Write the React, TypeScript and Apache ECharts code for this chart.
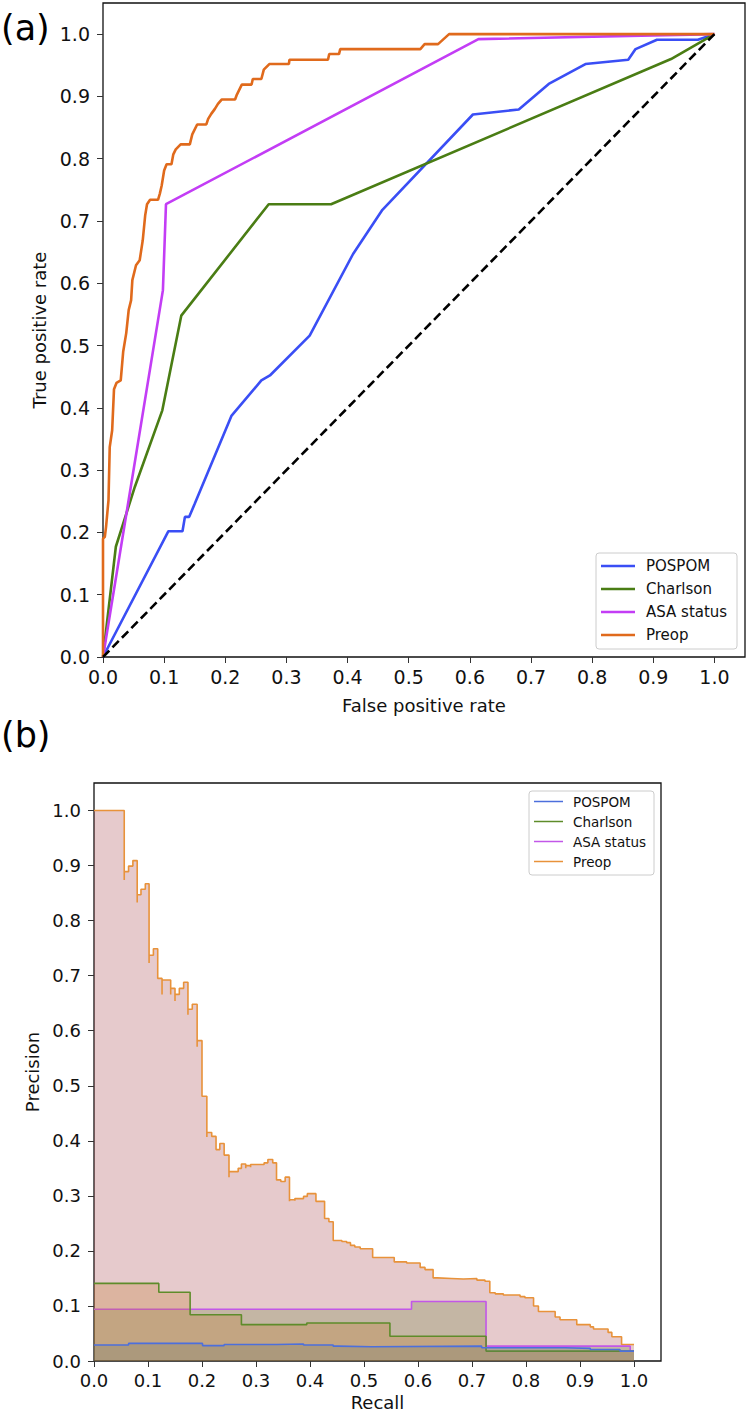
import React, { useEffect, useRef } from "react";
import * as echarts from "echarts";

// ---------- data ----------
const seriesNames = ["POSPOM", "Charlson", "ASA status", "Preop"];
const rocColors = ["#3a4ef5", "#4a7d14", "#c33df5", "#e06a1c"];
const prColors = ["#4c6fdc", "#5e8c2a", "#c257e8", "#e8923a"];
const prFillColors = ["#66766d", "#be741a", "#5e7a2c", "#9b2b33"];
const tickValues = [0, 0.1, 0.2, 0.3, 0.4, 0.5, 0.6, 0.7, 0.8, 0.9, 1.0];

// ROC curves: [false positive rate, true positive rate]
const rocPospom: number[][] = [
  [0, 0], [0.107, 0.202], [0.13, 0.202], [0.134, 0.225], [0.141, 0.225], [0.15, 0.246],
  [0.21, 0.387], [0.259, 0.444], [0.273, 0.452], [0.338, 0.516], [0.409, 0.647],
  [0.457, 0.718], [0.605, 0.871], [0.68, 0.879], [0.729, 0.92], [0.789, 0.952],
  [0.859, 0.959], [0.871, 0.976], [0.906, 0.991], [0.973, 0.991], [1, 1],
];
const rocCharlson: number[][] = [
  [0, 0], [0.021, 0.177], [0.052, 0.273], [0.097, 0.396], [0.128, 0.548],
  [0.271, 0.727], [0.373, 0.727], [0.929, 0.96], [1, 1],
];
const rocAsa: number[][] = [
  [0, 0], [0.098, 0.589], [0.103, 0.727], [0.614, 0.992], [1, 1],
];
const rocPreop: number[][] = [
  [0, 0], [0, 0.19], [0.003, 0.193], [0.005, 0.209], [0.009, 0.252], [0.011, 0.337],
  [0.015, 0.364], [0.018, 0.43], [0.022, 0.44], [0.029, 0.444], [0.033, 0.49],
  [0.038, 0.52], [0.042, 0.557], [0.046, 0.573], [0.048, 0.605], [0.054, 0.629],
  [0.06, 0.637], [0.065, 0.669], [0.069, 0.709], [0.072, 0.727], [0.077, 0.734],
  [0.09, 0.734], [0.093, 0.744], [0.096, 0.757], [0.1, 0.781], [0.104, 0.791],
  [0.112, 0.791], [0.115, 0.807], [0.119, 0.815], [0.127, 0.823], [0.142, 0.823],
  [0.146, 0.839], [0.154, 0.855], [0.169, 0.855], [0.172, 0.864], [0.177, 0.872],
  [0.183, 0.88], [0.188, 0.888], [0.194, 0.895], [0.216, 0.895], [0.219, 0.903],
  [0.227, 0.919], [0.243, 0.919], [0.245, 0.928], [0.259, 0.928], [0.263, 0.943],
  [0.272, 0.952], [0.304, 0.952], [0.305, 0.959], [0.368, 0.959], [0.37, 0.968],
  [0.386, 0.968], [0.388, 0.976], [0.519, 0.976], [0.526, 0.984], [0.548, 0.984],
  [0.566, 1.0], [1, 1],
];
const chanceLine: number[][] = [[0, 0], [1, 1]];

// Precision-recall curves: [recall, precision] (precision held until next recall)
const prPospom: number[][] = [
  [0, 0.029], [0.064, 0.032], [0.201, 0.028], [0.241, 0.03], [0.338, 0.031],
  [0.388, 0.029], [0.443, 0.027], [0.452, 0.026], [0.514, 0.027], [0.718, 0.024],
  [0.872, 0.023], [0.919, 0.021], [0.974, 0.018], [1.0, 0.018],
];
const prCharlson: number[][] = [
  [0, 0.141], [0.12, 0.125], [0.178, 0.084], [0.273, 0.066], [0.394, 0.069],
  [0.548, 0.045], [0.726, 0.018], [1.0, 0.018],
];
const prAsa: number[][] = [
  [0, 0.094], [0.588, 0.108], [0.726, 0.027], [0.993, 0.018], [1.0, 0.018],
];
const prPreop: number[][] = [
  [0, 1.0], [0.056, 0.874], [0.056, 0.889], [0.064, 0.899], [0.072, 0.909],
  [0.08, 0.833], [0.08, 0.847], [0.087, 0.857], [0.095, 0.867], [0.102, 0.723],
  [0.102, 0.737], [0.11, 0.749], [0.118, 0.695], [0.126, 0.666], [0.126, 0.692],
  [0.142, 0.666], [0.142, 0.677], [0.15, 0.654], [0.15, 0.666], [0.158, 0.677],
  [0.166, 0.688], [0.174, 0.629], [0.174, 0.639], [0.182, 0.648], [0.191, 0.571],
  [0.191, 0.582], [0.2, 0.481], [0.209, 0.407], [0.209, 0.415], [0.218, 0.408],
  [0.226, 0.384], [0.233, 0.395], [0.241, 0.374], [0.25, 0.334], [0.25, 0.344],
  [0.267, 0.35], [0.273, 0.358], [0.281, 0.35], [0.281, 0.355], [0.29, 0.352],
  [0.29, 0.357], [0.315, 0.36], [0.322, 0.366], [0.331, 0.36], [0.338, 0.329],
  [0.346, 0.326], [0.354, 0.334], [0.362, 0.29], [0.362, 0.293], [0.372, 0.291],
  [0.372, 0.295], [0.388, 0.299], [0.395, 0.304], [0.411, 0.29], [0.427, 0.259],
  [0.435, 0.253], [0.443, 0.219], [0.459, 0.217], [0.468, 0.215], [0.475, 0.21],
  [0.483, 0.207], [0.493, 0.204], [0.516, 0.188], [0.556, 0.18], [0.579, 0.178],
  [0.604, 0.17], [0.613, 0.166], [0.628, 0.151], [0.636, 0.15], [0.662, 0.149],
  [0.684, 0.15], [0.709, 0.147], [0.724, 0.145], [0.733, 0.124], [0.743, 0.122],
  [0.758, 0.12], [0.789, 0.117], [0.798, 0.115], [0.814, 0.1], [0.823, 0.09],
  [0.854, 0.08], [0.863, 0.075], [0.894, 0.066], [0.919, 0.062], [0.925, 0.058],
  [0.952, 0.052], [0.959, 0.044], [0.977, 0.03], [1.0, 0.03],
];

const rocData = [rocPospom, rocCharlson, rocAsa, rocPreop];
const prData = [prPospom, prCharlson, prAsa, prPreop];

const FONT = "DejaVu Sans";

function makeAxis(gridIndex: number, name: string, nameGap: number, fontSize: number, isY: boolean) {
  return {
    type: "value",
    gridIndex,
    min: 0,
    max: 1.05,
    interval: 0.1,
    splitLine: { show: false },
    axisLine: { show: false },
    axisTick: {
      show: true,
      length: 6,
      customValues: tickValues,
      lineStyle: { color: "#333", width: 1 },
    },
    axisLabel: {
      customValues: tickValues,
      formatter: (v: number) => v.toFixed(1),
      fontSize,
      fontFamily: FONT,
      color: "#111",
      margin: isY ? 13 : 10,
    },
    name,
    nameLocation: "middle",
    nameGap,
    nameTextStyle: { fontSize: 18, fontFamily: FONT, color: "#111" },
  };
}

function legendGraphics(
  x: number, y: number, w: number, h: number,
  ys: number[], lineX0: number, lineX1: number, textX: number,
  colors: string[], lineWidth: number, fontSize: number
) {
  const els: any[] = [
    {
      type: "rect",
      shape: { x, y, width: w, height: h, r: 3 },
      style: { fill: "rgba(255,255,255,0.85)", stroke: "#cccccc", lineWidth: 1 },
      z: 100,
    },
  ];
  seriesNames.forEach((n, i) => {
    els.push({
      type: "line",
      shape: { x1: lineX0, y1: ys[i], x2: lineX1, y2: ys[i] },
      style: { stroke: colors[i], lineWidth },
      z: 101,
    });
    els.push({
      type: "text",
      x: textX,
      y: ys[i],
      style: {
        text: n,
        fontSize,
        fontFamily: FONT,
        fill: "#111",
        verticalAlign: "middle",
        align: "left",
      },
      z: 101,
    });
  });
  return els;
}

export default function App() {
  const ref = useRef<HTMLDivElement>(null);
  useEffect(() => {
    document.body.style.margin = "0";
    if (!ref.current) return;
    const chart = echarts.init(ref.current, undefined, { renderer: "svg" });

    const series: any[] = [];
    // top chart: ROC
    rocData.forEach((d, i) => {
      series.push({
        name: seriesNames[i],
        type: "line",
        xAxisIndex: 0,
        yAxisIndex: 0,
        data: d,
        symbol: "none",
        lineStyle: { color: rocColors[i], width: 2.6 },
        itemStyle: { color: rocColors[i] },
        z: 3,
      });
    });
    series.push({
      name: "Chance",
      type: "line",
      xAxisIndex: 0,
      yAxisIndex: 0,
      data: chanceLine,
      symbol: "none",
      lineStyle: { color: "#000", width: 2.6, type: [9, 4.5] },
      z: 4,
    });
    // bottom chart: precision-recall, drawn Preop, ASA, Charlson, POSPOM
    [3, 2, 1, 0].forEach((i, k) => {
      series.push({
        name: seriesNames[i],
        type: "line",
        xAxisIndex: 1,
        yAxisIndex: 1,
        data: prData[i],
        step: "end",
        symbol: "none",
        lineStyle: { color: prColors[i], width: 1.6 },
        itemStyle: { color: prColors[i] },
        areaStyle: { color: prFillColors[i], opacity: 0.25, origin: "start" },
        z: 3 + k,
      });
    });

    const graphic: any[] = [
      {
        type: "text",
        x: 1,
        y: 28,
        style: { text: "(a)", fontSize: 35, fontFamily: FONT, fill: "#000", verticalAlign: "middle" },
      },
      {
        type: "text",
        x: 1,
        y: 735,
        style: { text: "(b)", fontSize: 35, fontFamily: FONT, fill: "#000", verticalAlign: "middle" },
      },
      ...legendGraphics(596, 553, 141, 96, [566, 589, 612, 635], 601, 635, 646, rocColors, 2.6, 15),
      ...legendGraphics(529, 791, 125, 84, [801.5, 821.5, 841.5, 861.5], 534, 563, 573, prColors, 1.5, 13.5),
    ];

    chart.setOption({
      animation: false,
      backgroundColor: "#ffffff",
      textStyle: { fontFamily: FONT },
      grid: [
        { left: 103, top: 3, width: 642, height: 654, show: true, borderColor: "#111", borderWidth: 1.3, backgroundColor: "transparent" },
        { left: 94, top: 783, width: 567, height: 578.5, show: true, borderColor: "#111", borderWidth: 1.3, backgroundColor: "transparent" },
      ],
      xAxis: [
        makeAxis(0, "False positive rate", 39, 19, false),
        makeAxis(1, "Recall", 32, 18, false),
      ],
      yAxis: [
        makeAxis(0, "True positive rate", 52, 19, true),
        makeAxis(1, "Precision", 48, 18, true),
      ],
      series,
      graphic,
    });
    return () => chart.dispose();
  }, []);
  return (
    <div
      ref={ref}
      style={{ position: "absolute", left: 0, top: 0, width: 748, height: 1412, background: "#fff" }}
    />
  );
}
